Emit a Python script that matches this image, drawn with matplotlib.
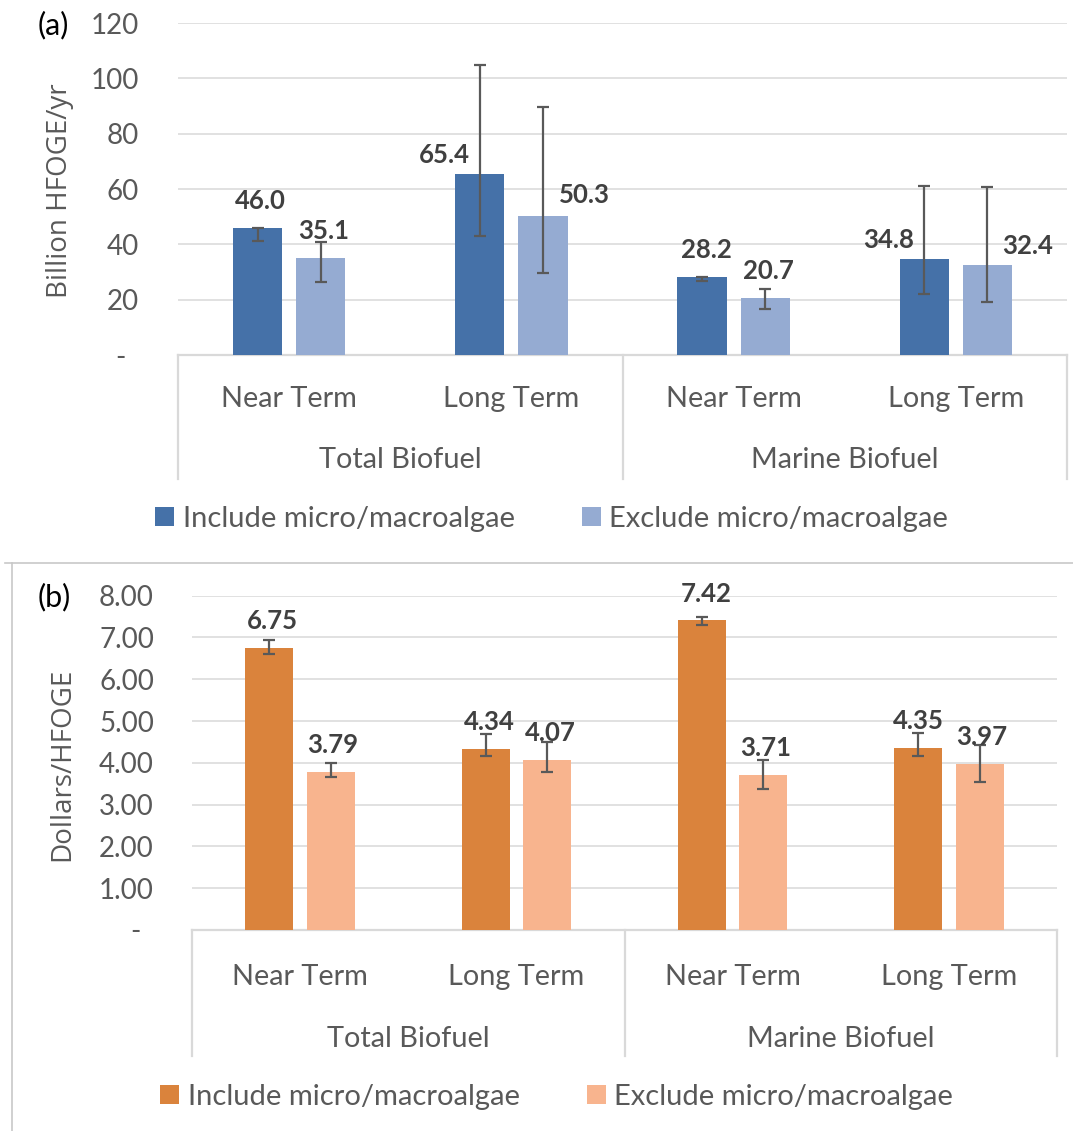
import matplotlib
matplotlib.use('Agg')
import matplotlib.pyplot as plt
from matplotlib.lines import Line2D
from matplotlib.patches import Patch
from matplotlib.transforms import ScaledTranslation, blended_transform_factory

# ---------------- data ----------------
terms = ['Near Term', 'Long Term', 'Near Term', 'Long Term']
groups = ['Total Biofuel', 'Marine Biofuel']
series_names = ['Include micro/macroalgae', 'Exclude micro/macroalgae']

supply_include = [46.0, 65.4, 28.2, 34.8]
supply_exclude = [35.1, 50.3, 20.7, 32.4]
supply_include_low = [41.3, 43.0, 26.6, 22.1]
supply_include_high = [46.0, 104.9, 28.2, 61.1]
supply_exclude_low = [26.3, 29.6, 16.6, 19.0]
supply_exclude_high = [40.7, 89.6, 23.7, 60.6]

cost_include = [6.75, 4.34, 7.42, 4.35]
cost_exclude = [3.79, 4.07, 3.71, 3.97]
cost_include_low = [6.61, 4.17, 7.29, 4.16]
cost_include_high = [6.95, 4.68, 7.48, 4.71]
cost_exclude_low = [3.66, 3.79, 3.38, 3.54]
cost_exclude_high = [4.00, 4.49, 4.06, 4.43]

supply_ticks = [0, 20, 40, 60, 80, 100, 120]
cost_ticks = [0, 1, 2, 3, 4, 5, 6, 7, 8]

# label placement offsets (pixels): (dx, dy above bar top to text baseline)
supply_inc_label_off = [(3, 19), (-35, 11), (4, 19), (-36, 11)]
supply_exc_label_off = [(3, 19), (42, 13), (3, 19), (40, 11)]
cost_inc_label_off = [(3, 19), (4, 19), (4, 18), (0, 19)]
cost_exc_label_off = [(2, 19), (3, 19), (2, 19), (2, 19)]

W, H = 1073, 1131
fig = plt.figure(figsize=(W / 100, H / 100), dpi=100)

TXT = '#595959'
LBL = '#404040'
GRID = '#D9D9D9'
BASE_FONT = 'Lato'


def add_axes(l, r, t, b):
    return fig.add_axes([l / W, 1 - b / H, (r - l) / W, (b - t) / H])


def err(vals, lo, hi):
    return [[max(v - a, 0) for v, a in zip(vals, lo)],
            [max(b - v, 0) for v, b in zip(vals, hi)]]


def panel(ax, inc, exc, inc_lo, inc_hi, exc_lo, exc_hi, ticks, tickfmt, labfmt,
          c_inc, c_exc, inc_off, exc_off, ylabel, ylab_xy, tag, tag_xy,
          leg_xy, box_bottom, near_base, group_base, pad):
    x = list(range(len(terms)))
    bw, off = 0.222, 0.142
    ax.set_xlim(-0.5, len(terms) - 0.5)
    ax.set_ylim(ticks[0], ticks[-1])
    ax.set_axisbelow(True)
    ax.yaxis.grid(True, color=GRID, lw=1.1)
    for s in ax.spines.values():
        s.set_visible(False)
    ax.axhline(0, color=GRID, lw=1.6, zorder=1.5, clip_on=False)

    xi = [v - off for v in x]
    xe = [v + off for v in x]
    ax.bar(xi, inc, width=bw, color=c_inc, zorder=2)
    ax.bar(xe, exc, width=bw, color=c_exc, zorder=2)
    ax.errorbar(xi, inc, yerr=err(inc, inc_lo, inc_hi), fmt='none', ecolor='#595959',
                elinewidth=1.6, capsize=4, capthick=1.6, zorder=3)
    ax.errorbar(xe, exc, yerr=err(exc, exc_lo, exc_hi), fmt='none', ecolor='#595959',
                elinewidth=1.6, capsize=4, capthick=1.6, zorder=3)

    for xs, vals, offs in ((xi, inc, inc_off), (xe, exc, exc_off)):
        for xv, v, (dx, dy) in zip(xs, vals, offs):
            ax.annotate(labfmt.format(v), xy=(xv, v), xytext=(dx * 0.72, dy * 0.72),
                        textcoords='offset points', ha='center', va='baseline',
                        fontsize=18.5, fontweight='bold', color=LBL, family=BASE_FONT,
                        zorder=4)

    ax.set_xticks([])
    ax.set_yticks(ticks)
    ax.set_yticklabels(['-' if t == 0 else tickfmt.format(t) for t in ticks])
    ax.tick_params(axis='y', length=0, pad=pad, labelsize=20, labelcolor=TXT)
    for lab in ax.get_yticklabels():
        lab.set_family(BASE_FONT)
    mt = ax.yaxis.get_major_ticks()
    mt[0].label1.set_transform(mt[0].label1.get_transform() +
                               ScaledTranslation(-0.13, 0, fig.dpi_scale_trans))

    blend = blended_transform_factory(ax.transData, ax.transAxes)
    for xv in (-0.5, 1.5, 3.5):
        ax.plot([xv, xv], [0, box_bottom], transform=blend, color=GRID, lw=1.6,
                clip_on=False, zorder=1)
    for i, t in enumerate(terms):
        ax.text(i, near_base, t, transform=blend, ha='center', va='baseline',
                fontsize=20.8, color=TXT, family=BASE_FONT)
    for g, name in enumerate(groups):
        ax.text(0.5 + 2 * g, group_base, name, transform=blend, ha='center',
                va='baseline', fontsize=20.8, color=TXT, family=BASE_FONT)

    fig.text(ylab_xy[0] / W, 1 - ylab_xy[1] / H, ylabel, rotation=90, ha='center',
             va='center', fontsize=20, color=TXT, family='Open Sans')
    fig.text(tag_xy[0] / W, 1 - tag_xy[1] / H, tag, ha='center', va='center',
             fontsize=22, color='black', family=BASE_FONT)

    handles = [Patch(facecolor=c_inc), Patch(facecolor=c_exc)]
    fig.legend(handles, series_names, loc='center',
               bbox_to_anchor=(leg_xy[0] / W, 1 - leg_xy[1] / H), ncol=2,
               frameon=False, handlelength=0.65, handleheight=0.65,
               handletextpad=0.3, columnspacing=2.3,
               prop={'family': BASE_FONT, 'size': 21}, labelcolor=TXT)


ax_a = add_axes(178, 1067, 23, 355)
panel(ax_a, supply_include, supply_exclude, supply_include_low, supply_include_high,
      supply_exclude_low, supply_exclude_high, supply_ticks, '{:.0f}', '{:.1f}',
      '#4571A8', '#95ABD2', supply_inc_label_off, supply_exc_label_off,
      'Billion HFOGE/yr', (60, 191), '(a)', (53.5, 25.5), (551.5, 519),
      -0.3735, -0.1557, -0.3413, 28)

ax_b = add_axes(192, 1057, 595.7, 930)
panel(ax_b, cost_include, cost_exclude, cost_include_low, cost_include_high,
      cost_exclude_low, cost_exclude_high, cost_ticks, '{:.2f}', '{:.2f}',
      '#DA833C', '#F8B48E', cost_inc_label_off, cost_exc_label_off,
      'Dollars/HFOGE', (62, 764), '(b)', (54, 597), (556.5, 1097),
      -0.377, -0.1633, -0.3494, 27.4)

# border around panel (b)
fig.add_artist(Line2D([5 / W, 1], [1 - 562.7 / H] * 2, color='#C8C8C8', lw=1.2))
fig.add_artist(Line2D([11.7 / W] * 2, [1 - 562.7 / H, 0], color='#C8C8C8', lw=1.2))

fig.savefig('out.png', dpi=100)
